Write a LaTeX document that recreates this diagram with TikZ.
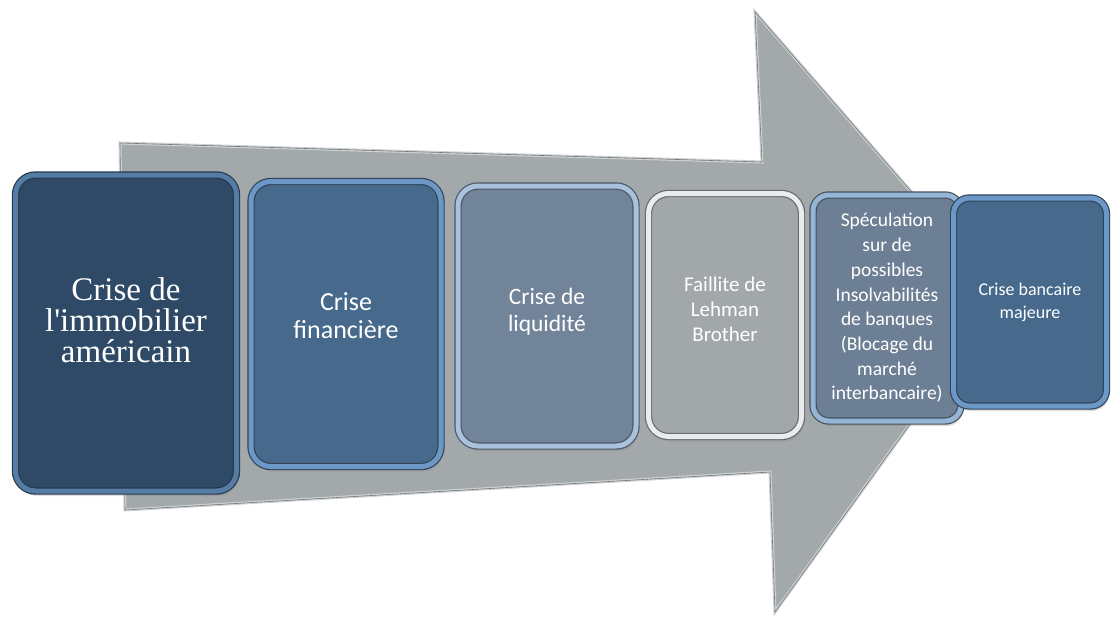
\documentclass[tikz,border=0pt]{standalone}
\usepackage{fontspec}
\setmainfont{Carlito}
\newfontfamily\serifface{Liberation Serif}
\usepackage{xcolor}
\usetikzlibrary{positioning,shadows}

% Colours of the arrow and the boxes
\definecolor{arrowgray}{RGB}{163,168,171}
\definecolor{arrowrim}{RGB}{206,210,212}
\definecolor{navyface}{RGB}{46,74,102}
\definecolor{navyrim}{RGB}{84,124,165}
\definecolor{blueface}{RGB}{70,105,140}
\definecolor{bluerim}{RGB}{108,152,200}
\definecolor{slateface}{RGB}{114,132,153}
\definecolor{slaterim}{RGB}{168,194,222}
\definecolor{greyface}{RGB}{162,167,170}
\definecolor{greyrim}{RGB}{232,236,238}
\definecolor{speculface}{RGB}{109,127,148}
\definecolor{speculrim}{RGB}{150,182,214}

\tikzset{
    crisebox/.style 2 args={draw=#2!45!black, double=#2, double distance=5pt,
        line width=1.2pt, fill=#1, rounded corners=20pt, text=white,
        align=center, inner sep=2pt,
        drop shadow={shadow xshift=2pt, shadow yshift=-5pt, opacity=0.25}},
}

\begin{document}
\begin{tikzpicture}[x=1pt, y=-1pt]
    \useasboundingbox (0,0) rectangle (1114,619);

    % Big arrow behind the boxes
    \coordinate (bodytl) at (120,143);
    \coordinate (notchtop) at (762,162);
    \coordinate (headtop) at (755,12);
    \coordinate (tip) at (1002,296);
    \coordinate (headbot) at (775,612);
    \coordinate (notchbot) at (770,472);
    \coordinate (bodybl) at (125,510);
    \fill[arrowgray] (bodytl) -- (notchtop) -- (headtop) -- (tip)
        -- (headbot) -- (notchbot) -- (bodybl) -- cycle;
    \draw[arrowrim, line width=3pt, line join=miter] (bodytl) -- (notchtop)
        -- (headtop) -- (tip) -- (headbot) -- (notchbot) -- (bodybl) -- cycle;
    \draw[arrowgray!70!black, line width=0.6pt] (bodytl) -- (notchtop)
        -- (headtop) -- (tip) -- (headbot) -- (notchbot) -- (bodybl) -- cycle;

    % Steps of the crisis
    \node[crisebox={navyface}{navyrim}, minimum width=221pt, minimum height=316pt,
        text depth=26pt, font=\serifface\fontsize{33}{31}\selectfont]
        (immo) at (126,333) {Crise de\\l'immobilier\\américain};
    \node[crisebox={blueface}{bluerim}, minimum width=190pt, minimum height=285pt,
        text depth=16pt, font=\fontsize{26}{28}\selectfont]
        (fin) at (346,324) {Crise\\financière};
    \node[crisebox={slateface}{slaterim}, minimum width=178pt, minimum height=260pt,
        text depth=12pt, font=\fontsize{23.5}{27}\selectfont]
        (liq) at (547,316) {Crise de\\liquidité};
    \node[crisebox={greyface}{greyrim}, minimum width=153pt, minimum height=243pt,
        text depth=12pt, font=\fontsize{21}{25}\selectfont]
        (lehman) at (725,315) {Faillite de\\Lehman\\Brother};
    \node[crisebox={speculface}{speculrim}, minimum width=148pt, minimum height=226pt,
        rounded corners=16pt, font=\fontsize{19.5}{24.7}\selectfont]
        (specul) at (887,308) {Spéculation\\sur de\\possibles\\Insolvabilités\\de banques\\(Blocage du\\marché\\interbancaire)};
    \node[crisebox={blueface}{bluerim}, minimum width=153pt, minimum height=208pt,
        rounded corners=16pt, font=\fontsize{18}{23}\selectfont]
        (bancaire) at (1030,302) {Crise bancaire\\majeure};
\end{tikzpicture}
\end{document}
